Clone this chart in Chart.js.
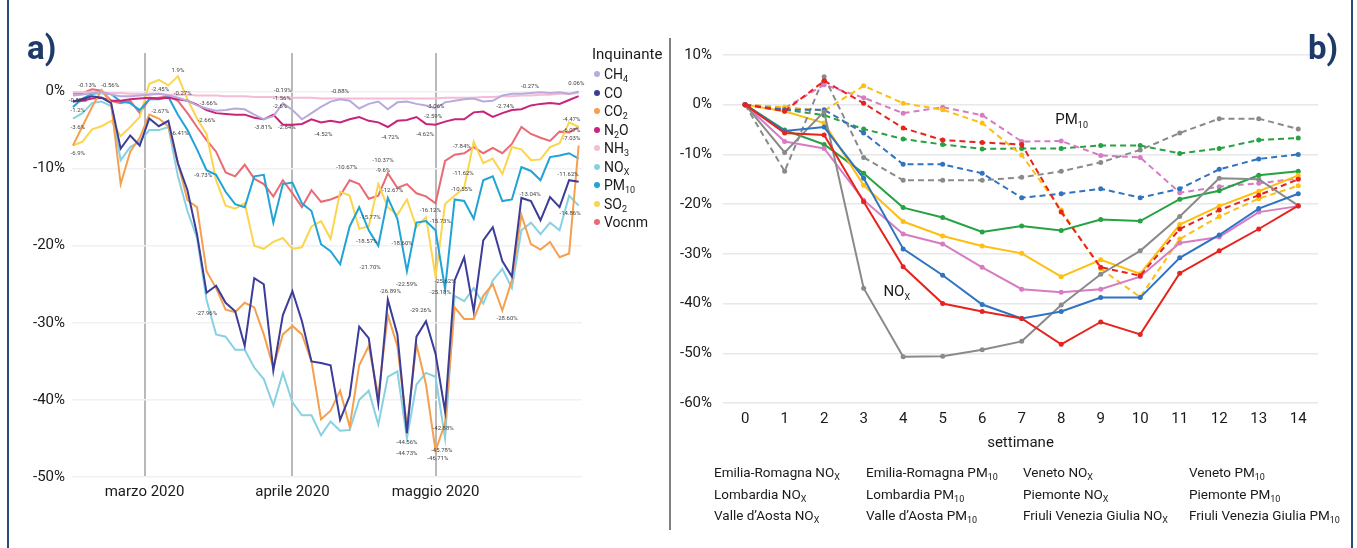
<!DOCTYPE html>
<html>
<head>
<meta charset="utf-8">
<script src="https://cdn.jsdelivr.net/npm/chart.js@4.4.1/dist/chart.umd.min.js"></script>
<style>
  body { margin: 0; background: #fff; }
  #wrap { position: relative; width: 1357px; height: 548px; overflow: hidden;
    font-family: Roboto, "Liberation Sans", sans-serif; color: #1a1a1a; }
  canvas { position: absolute; top: 0; }
  .frame { position: absolute; top: 0; bottom: 0; width: 2px; background: #2a4a78; }
  .tag { position: absolute; top: 32px; font-weight: bold; font-size: 33px; line-height: 32px; color: #1d3b6a; }
  .leg { position: absolute; font-size: 14px; line-height: 18px; white-space: nowrap; }
  .leg sub, .legb sub { font-size: 9px; vertical-align: -3px; line-height: 0; }
  .dot { display: inline-block; width: 6px; height: 6px; border-radius: 50%; margin-right: 4px; vertical-align: 2px; }
  .legb { position: absolute; font-size: 13.5px; line-height: 18px; white-space: nowrap; }
</style>
</head>
<body>
<div id="wrap">
  <div class="frame" style="left:7px"></div>
  <div class="frame" style="left:1351px"></div>
  <div style="position:absolute;left:669px;top:38px;width:2px;height:492px;background:#808080"></div>
  <canvas id="ca" width="670" height="548" style="left:0"></canvas>
  <canvas id="cb" width="687" height="548" style="left:670px"></canvas>
  <div class="tag" style="left:27px">a)</div>
  <div class="tag" style="left:1308px">b)</div>
  <div id="legA"></div>
  <div id="legB"></div>
</div>
<script>
const FONT = 'Roboto, "Liberation Sans", sans-serif';

// ---- panel a: daily change by pollutant (every second day) ----
const days = [-15,-13,-11,-9,-7,-5,-3,-1,
  1,3,5,7,9,11,13,15,17,19,
  21,23,25,27,29,31,33,35,37,39,
  41,43,45,47,49,51,53,55,57,59,
  61,63,65,67,69,71,73,75,77,79,
  81,83,85,87,89,91];
const monthTicks = [0, 31, 61];
const monthLabels = ['marzo 2020', 'aprile 2020', 'maggio 2020'];
const ticksA = [0, -10, -20, -30, -40, -50];

const ch4 = [-0.5,-0.4,-0.2,0,-0.4,-0.6,-0.6,-0.5,
  -0.4,-0.3,-0.5,-0.8,-1.2,-1.8,-2.2,-2.5,-2.4,-2.2,
  -2.3,-3.0,-3.6,-3.2,-1.5,-2.4,-3.6,-2.8,-2.0,-1.3,
  -1.0,-1.2,-2.2,-1.6,-1.3,-2.3,-1.4,-1.3,-1.6,-1.8,
  -2.2,-1.4,-1.2,-1.0,-0.9,-1.3,-1.2,-0.5,-0.3,-0.3,
  -0.2,-0.1,-0.2,-0.1,-0.3,0.0];
const co = [-1.3,-1.0,-0.6,-0.8,-1.5,-7.4,-5.7,-7.0,
  -3.5,-4.5,-3.8,-9.3,-12.8,-18.5,-26.1,-25.2,-27.4,-28.5,
  -33.0,-24.2,-25.0,-36.2,-29.0,-25.9,-29.8,-35.0,-35.2,-35.5,
  -42.6,-39.5,-30.5,-32.0,-40.5,-27.0,-31.5,-44.3,-31.8,-29.8,
  -34.0,-41.5,-24.5,-21.5,-28.5,-19.3,-17.6,-22.0,-24.0,-13.8,
  -14.2,-16.7,-13.7,-15.0,-11.5,-11.7];
const co2 = [-7.0,-4.5,-2.0,0.2,-1.5,-12.0,-7.8,-6.0,
  -3.0,-3.5,-4.5,-9.3,-14.1,-15.0,-23.3,-25.5,-28.3,-28.6,
  -27.4,-28.0,-31.5,-35.8,-31.5,-30.4,-31.5,-35.0,-42.5,-41.4,
  -38.8,-43.5,-35.5,-33.0,-39.5,-29.0,-33.0,-43.5,-32.8,-38.0,
  -46.6,-43.0,-28.0,-29.5,-29.5,-26.5,-25.0,-28.4,-24.5,-16.0,
  -19.8,-20.5,-19.5,-21.5,-21.0,-7.0];
const n2o = [-1.3,-1.2,-0.9,-0.8,-1.2,-1.2,-1.0,-0.9,
  -0.8,-0.9,-0.8,-1.0,-1.2,-1.7,-2.4,-2.8,-2.9,-3.0,
  -3.0,-3.4,-3.6,-3.0,-4.3,-4.3,-4.2,-3.6,-4.0,-3.8,
  -4.0,-3.6,-3.3,-3.8,-4.0,-4.6,-3.8,-3.7,-3.3,-4.2,
  -4.3,-3.9,-3.6,-3.6,-2.7,-2.6,-3.3,-2.8,-2.4,-2.3,
  -1.8,-1.6,-1.5,-1.6,-1.1,-0.6];
const nh3 = [-0.1,-0.1,-0.1,-0.2,-0.2,-0.2,-0.3,-0.3,
  -0.3,-0.3,-0.4,-0.4,-0.4,-0.5,-0.5,-0.5,-0.6,-0.6,
  -0.6,-0.7,-0.7,-0.7,-0.8,-0.8,-0.8,-0.8,-0.9,-0.9,
  -0.9,-0.9,-0.9,-0.9,-0.9,-0.9,-0.9,-0.9,-0.9,-0.9,
  -0.9,-0.8,-0.8,-0.8,-0.8,-0.7,-0.7,-0.6,-0.6,-0.5,
  -0.5,-0.4,-0.4,-0.3,-0.3,-0.2];
const nox = [-3.5,-2.8,-1.5,-1.3,-1.9,-8.9,-7.2,-6.5,
  -5.0,-5.0,-4.6,-11.0,-15.5,-19.0,-27.0,-31.5,-31.8,-33.5,
  -33.5,-35.8,-37.3,-40.7,-36.5,-40.3,-42.0,-42.0,-44.6,-42.8,
  -44.0,-43.9,-40.0,-38.8,-43.2,-37.0,-36.3,-45.0,-38.0,-36.5,
  -37.0,-45.0,-26.5,-27.2,-25.5,-27.5,-24.5,-23.0,-25.5,-18.0,
  -17.0,-18.5,-17.0,-18.0,-13.5,-14.8];
const pm10 = [-2.0,-0.9,-0.3,-0.2,-0.3,-1.3,-1.5,-2.4,
  -1.0,-1.0,-0.7,-3.0,-5.0,-7.5,-10.2,-10.8,-13.0,-14.6,
  -15.0,-11.0,-10.8,-17.0,-12.0,-11.8,-14.5,-15.5,-19.8,-20.7,
  -22.4,-17.5,-15.0,-18.0,-20.0,-13.8,-16.5,-23.3,-17.0,-16.8,
  -18.0,-25.6,-14.0,-14.2,-16.5,-11.5,-11.0,-14.2,-14.0,-9.8,
  -10.3,-11.5,-8.5,-8.3,-8.0,-8.7];
const so2 = [-7.0,-6.5,-4.9,-4.5,-3.8,-5.8,-4.6,-3.3,
  1.0,1.5,0.8,2.0,-1.0,-3.5,-5.5,-11.5,-14.8,-15.2,
  -14.5,-20.0,-20.4,-19.5,-19.0,-20.4,-20.2,-17.5,-16.8,-19.1,
  -13.0,-13.5,-17.8,-17.5,-12.0,-15.0,-16.0,-14.0,-17.6,-16.3,
  -24.0,-14.6,-13.5,-12.5,-6.5,-9.3,-8.7,-10.7,-7.2,-7.5,
  -8.9,-8.8,-7.2,-6.7,-4.0,-4.6];
const vocnm = [-0.3,-0.2,0.3,0.1,-1.2,-1.5,-1.2,-2.8,
  -1.0,-0.8,-0.6,-1.2,-2.8,-4.6,-6.3,-7.8,-10.5,-11.0,
  -9.5,-11.3,-12.0,-13.6,-11.5,-13.2,-15.0,-12.8,-14.3,-14.0,
  -13.5,-11.5,-12.0,-13.9,-13.5,-10.6,-12.5,-12.0,-13.2,-13.6,
  -14.5,-9.0,-8.2,-8.0,-7.2,-8.0,-7.3,-8.0,-6.8,-4.6,
  -5.5,-6.0,-6.4,-5.2,-5.3,-4.6];

// small value labels printed on panel a: [day, value, text]
const notes = [
  [-12, 0.8, '-0.13%'], [-7.2, 0.8, '-0.56%'], [-14, -1.1, '-0.87%'], [-14, -2.5, '-1.2%'],
  [-14, -4.7, '-3.6%'], [-14, -8.0, '-6.9%'], [7, 2.7, '1.9%'], [3.3, 0.3, '-2.45%'],
  [8, -0.2, '-0.27%'], [3.3, -2.6, '-2.67%'], [13.4, -1.6, '-3.66%'], [13, -3.8, '-2.66%'],
  [7.4, -5.4, '-6.41%'], [12.3, -10.9, '-9.73%'], [13, -28.8, '-27.96%'], [24.9, -4.7, '-3.81%'],
  [29.8, -4.7, '-2.84%'], [29, 0.1, '-0.19%'], [28.8, -0.9, '-1.56%'], [28.4, -1.9, '-2.6%'],
  [37.5, -5.6, '-4.52%'], [41, 0, '-0.88%'], [80.8, 0.6, '-0.27%'], [90.5, 1.1, '0.06%'],
  [61, -2.0, '-3.06%'], [60.5, -3.3, '-2.59%'], [75.6, -1.9, '-2.74%'], [51.5, -5.9, '-4.72%'],
  [58.8, -5.6, '-4.62%'], [89.5, -3.6, '-4.47%'], [89.5, -5.0, '-6.07%'], [89.5, -6.1, '-7.03%'],
  [66.5, -7.1, '-7.84%'], [42.4, -9.8, '-10.67%'], [50, -9.0, '-10.37%'], [50, -10.3, '-9.6%'],
  [52, -12.8, '-12.67%'], [66.8, -10.6, '-11.62%'], [66.5, -12.7, '-10.55%'], [88.8, -10.7, '-11.62%'],
  [47.3, -16.3, '-15.77%'], [46.6, -19.5, '-18.57%'], [54, -19.7, '-18.60%'], [47.3, -22.8, '-21.70%'],
  [59.9, -15.4, '-16.12%'], [62, -16.8, '-15.73%'], [89.2, -15.8, '-14.86%'], [80.8, -13.3, '-13.04%'],
  [55, -25.0, '-22.59%'], [63, -24.7, '-25.62%'], [62, -26.1, '-25.18%'], [51.5, -25.9, '-26.89%'],
  [57.9, -28.4, '-29.26%'], [76, -29.5, '-28.60%'], [55, -45.5, '-44.56%'], [55, -46.9, '-44.73%'],
  [62.6, -43.7, '-42.88%'], [62.3, -46.6, '-45.78%'], [61.5, -47.6, '-46.71%']
];

const pollutants = [
  { name: 'CH<sub>4</sub>', values: ch4, color: '#b8aadd' },
  { name: 'CO', values: co, color: '#3c3c99' },
  { name: 'CO<sub>2</sub>', values: co2, color: '#f5a04e' },
  { name: 'N<sub>2</sub>O', values: n2o, color: '#c8247b' },
  { name: 'NH<sub>3</sub>', values: nh3, color: '#f6bcd6' },
  { name: 'NO<sub>X</sub>', values: nox, color: '#88d1e3' },
  { name: 'PM<sub>10</sub>', values: pm10, color: '#21a3d6' },
  { name: 'SO<sub>2</sub>', values: so2, color: '#fbd54e' },
  { name: 'Vocnm', values: vocnm, color: '#e96a72' }
];

// ---- panel b: weekly change by region ----
const weeks = [0,1,2,3,4,5,6,7,8,9,10,11,12,13,14];
const ticksB = [10, 0, -10, -20, -30, -40, -50, -60];

const emiliaNox   = [0,-5.7,-6.1,-19.5,-32.6,-40,-41.6,-43,-48.2,-43.7,-46.2,-33.9,-29.4,-25,-20.3];
const emiliaPm    = [0,-1.3,4.8,0.3,-4.7,-7.1,-7.6,-8,-21.6,-32.7,-34.4,-25,-21.2,-18.2,-15];
const lombNox     = [0,-5.3,-4.5,-14.8,-29,-34.3,-40.2,-43,-41.6,-38.8,-38.8,-30.8,-26.2,-20.9,-17.9];
const lombPm      = [0,-1,-1,-5.7,-12,-12,-13.8,-18.7,-17.9,-16.9,-18.7,-16.9,-13,-10.9,-10];
const aostaNox    = [0,-9.6,-1.4,-36.9,-50.7,-50.6,-49.3,-47.6,-40.3,-34.1,-29.4,-22.5,-14.8,-15,-20.3];
const aostaPm     = [0,-13.4,5.6,-10.6,-15.2,-15.2,-15.2,-14.6,-13.4,-11.6,-9.1,-5.7,-2.8,-2.8,-4.9];
const venetoNox   = [0,-1.3,-3.7,-16.2,-23.5,-26.4,-28.4,-29.9,-34.6,-31.2,-34,-24.1,-20.4,-17.4,-14.2];
const venetoPm    = [0,-0.5,-1.2,3.8,0.3,-1,-3.7,-10.1,-21.2,-33,-38.7,-27,-22.5,-18.9,-16.3];
const piemNox     = [0,-7.4,-8.8,-19.2,-26,-28,-32.7,-37.1,-37.7,-37.1,-34.6,-27.8,-26.6,-21.6,-20.4];
const piemPm      = [0,-0.7,4,1.4,-1.7,-0.5,-2.1,-7.4,-7.3,-10.2,-10.6,-17.7,-16.5,-15.8,-14.8];
const friuliNox   = [0,-5.1,-8,-13.8,-20.7,-22.7,-25.6,-24.4,-25.3,-23.1,-23.4,-19,-17.3,-14.2,-13.4];
const friuliPm    = [0,-1,-2.1,-4.9,-6.9,-8,-8.9,-8.8,-8.8,-8.2,-8.2,-9.8,-8.8,-7.1,-6.7];

const NOX = 'NO<sub>X</sub>', PM = 'PM<sub>10</sub>';
const regions = [
  { name: 'Emilia-Romagna ' + NOX, values: emiliaNox, color: '#e8231d', dash: false },
  { name: 'Lombardia ' + NOX, values: lombNox, color: '#2f73c1', dash: false },
  { name: 'Valle d\u2019Aosta ' + NOX, values: aostaNox, color: '#8a8a8a', dash: false },
  { name: 'Emilia-Romagna ' + PM, values: emiliaPm, color: '#e8231d', dash: true },
  { name: 'Lombardia ' + PM, values: lombPm, color: '#2f73c1', dash: true },
  { name: 'Valle d\u2019Aosta ' + PM, values: aostaPm, color: '#8a8a8a', dash: true },
  { name: 'Veneto ' + NOX, values: venetoNox, color: '#fdbf12', dash: false },
  { name: 'Piemonte ' + NOX, values: piemNox, color: '#d77cc4', dash: false },
  { name: 'Friuli Venezia Giulia ' + NOX, values: friuliNox, color: '#27a243', dash: false },
  { name: 'Veneto ' + PM, values: venetoPm, color: '#fdbf12', dash: true },
  { name: 'Piemonte ' + PM, values: piemPm, color: '#d77cc4', dash: true },
  { name: 'Friuli Venezia Giulia ' + PM, values: friuliPm, color: '#27a243', dash: true }
];

const tickFont = { family: FONT, size: 15 };

// tiny value labels on panel a
const valueNotes = {
  id: 'valueNotes',
  afterDatasetsDraw(chart) {
    const { ctx, scales: { x, y } } = chart;
    ctx.save();
    ctx.font = '6px ' + FONT;
    ctx.fillStyle = '#444';
    ctx.textAlign = 'center';
    ctx.textBaseline = 'middle';
    notes.forEach(([d, v, t]) => ctx.fillText(t, x.getPixelForValue(d), y.getPixelForValue(v)));
    ctx.restore();
  }
};

// panel a
new Chart(document.getElementById('ca'), {
  type: 'line',
  data: {
    datasets: pollutants.map(p => ({
      label: p.name,
      data: p.values.map((v, i) => ({ x: days[i], y: v })),
      borderColor: p.color,
      backgroundColor: p.color,
      borderWidth: 2,
      pointRadius: 0,
      tension: 0
    }))
  },
  options: {
    responsive: false, animation: false, events: [],
    layout: { padding: { left: 0, right: 88, top: 53, bottom: 41 } },
    plugins: { legend: { display: false }, tooltip: { enabled: false } },
    scales: {
      x: {
        type: 'linear', min: -15.2, max: 91.7,
        afterBuildTicks: s => { s.ticks = monthTicks.map(v => ({ value: v })); },
        afterFit: s => { s.height = 30; },
        grid: { color: '#b9b9b9', lineWidth: 2, drawTicks: false },
        border: { display: false },
        ticks: { padding: 6, color: '#1a1a1a', font: tickFont, maxRotation: 0,
          callback: v => monthLabels[monthTicks.indexOf(v)] }
      },
      y: {
        min: -50, max: 5,
        afterBuildTicks: s => { s.ticks = ticksA.map(v => ({ value: v })); },
        afterFit: s => { s.width = 72; },
        grid: { color: '#f1f1f1', lineWidth: 1.5, drawTicks: false },
        border: { display: false },
        ticks: { padding: 7, color: '#1a1a1a', font: tickFont, callback: v => v + '%' }
      }
    }
  },
  plugins: [valueNotes]
});

// labels "PM10" and "NOx" inside panel b
function subText(ctx, main, sub, x, y) {
  ctx.save();
  ctx.fillStyle = '#1a1a1a';
  ctx.textBaseline = 'middle';
  ctx.font = '15px ' + FONT;
  ctx.fillText(main, x, y);
  const w = ctx.measureText(main).width;
  ctx.font = '9px ' + FONT;
  ctx.fillText(sub, x + w, y + 5);
  ctx.restore();
}
const inlineLabels = {
  id: 'inlineLabels',
  afterDatasetsDraw(chart) {
    const { ctx, scales: { x, y } } = chart;
    subText(ctx, 'PM', '10', x.getPixelForValue(7.85), y.getPixelForValue(-3.2));
    subText(ctx, 'NO', 'X', x.getPixelForValue(3.5), y.getPixelForValue(-37.8));
  }
};

// panel b
new Chart(document.getElementById('cb'), {
  type: 'line',
  data: {
    datasets: regions.map(r => ({
      label: r.name,
      data: r.values.map((v, i) => ({ x: weeks[i], y: v })),
      borderColor: r.color,
      backgroundColor: r.color,
      borderWidth: 2,
      borderDash: r.dash ? [6, 4] : [],
      pointRadius: 2.5,
      pointBorderWidth: 0,
      tension: 0
    }))
  },
  options: {
    responsive: false, animation: false, events: [],
    layout: { padding: { left: 0, right: 39, top: 55, bottom: 95 } },
    plugins: { legend: { display: false }, tooltip: { enabled: false } },
    scales: {
      x: {
        type: 'linear', min: -0.56, max: 14.5,
        afterBuildTicks: s => { s.ticks = weeks.map(v => ({ value: v })); },
        afterFit: s => { s.height = 50; },
        grid: { display: false, drawTicks: false },
        border: { display: false },
        ticks: { padding: 7, color: '#1a1a1a', font: tickFont, maxRotation: 0 },
        title: { display: true, text: 'settimane', color: '#1a1a1a', font: tickFont, padding: { top: 0, bottom: 1 } }
      },
      y: {
        min: -60, max: 10,
        afterBuildTicks: s => { s.ticks = ticksB.map(v => ({ value: v })); },
        afterFit: s => { s.width = 53; },
        grid: { color: '#e8e8e8', lineWidth: 1.5, drawTicks: false },
        border: { display: false },
        ticks: { padding: 11, color: '#1a1a1a', font: tickFont, callback: v => v + '%' }
      }
    }
  },
  plugins: [inlineLabels]
});

// legends (HTML so that subscripts render)
const legA = document.getElementById('legA');
legA.innerHTML = '<div class="leg" style="left:592px;top:45px;font-size:15px">Inquinante</div>' +
  pollutants.map((p, i) =>
    `<div class="leg" style="left:594px;top:${65 + i * 18.5}px"><span class="dot" style="background:${p.color}"></span>${p.name}</div>`
  ).join('');

const colX = [714, 866, 1023, 1189];
const legB = document.getElementById('legB');
legB.innerHTML = regions.map((r, i) => {
  const col = Math.floor(i / 3), row = i % 3;
  return `<div class="legb" style="left:${colX[col]}px;top:${463 + row * 21.5}px">${r.name}</div>`;
}).join('');
</script>
</body>
</html>
